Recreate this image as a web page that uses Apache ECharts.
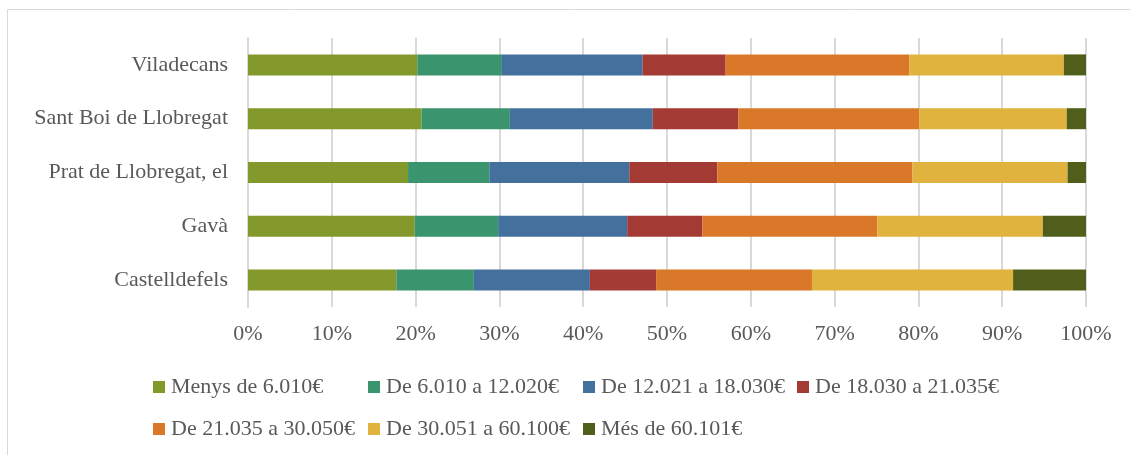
<!DOCTYPE html>
<html>
<head>
<meta charset="utf-8">
<script src="https://cdn.jsdelivr.net/npm/echarts@6/dist/echarts.min.js"></script>
<style>
  html, body { margin: 0; padding: 0; background: #fff; }
  #chart { width: 1130px; height: 455px; }
</style>
</head>
<body>
<div id="chart"></div>
<script>
// categories, bottom to top
const towns = ['Castelldefels', 'Gavà', 'Prat de Llobregat, el', 'Sant Boi de Llobregat', 'Viladecans'];
const xTicks = [0, 10, 20, 30, 40, 50, 60, 70, 80, 90, 100];

const brackets = [
  'Menys de 6.010€',
  'De 6.010 a 12.020€',
  'De 12.021 a 18.030€',
  'De 18.030 a 21.035€',
  'De 21.035 a 30.050€',
  'De 30.051 a 60.100€',
  'Més de 60.101€'
];

// share (%) per town, same order as towns
const menys6010 = [17.7, 19.9, 19.1, 20.7, 20.2];
const de6010 = [9.25, 9.95, 9.7, 10.55, 10.1];
const de12021 = [13.85, 15.4, 16.7, 17.05, 16.8];
const de18030 = [7.9, 8.95, 10.5, 10.2, 9.9];
const de21035 = [18.6, 20.9, 23.3, 21.6, 21.9];
const de30051 = [24.0, 19.75, 18.5, 17.6, 18.45];
const mes60101 = [8.7, 5.15, 2.2, 2.3, 2.65];

const values = [menys6010, de6010, de12021, de18030, de21035, de30051, mes60101];
const colors = ['#84992b', '#3a946e', '#43709d', '#a33a33', '#d97829', '#e0b33f', '#4f5f1b'];

const font = '"Liberation Serif", "DejaVu Serif", serif';
const textColor = '#595959';

const chart = echarts.init(document.getElementById('chart'));

// legend laid out in columns like the original
const legendCols = [
  { left: 153, data: [brackets[0], brackets[4]] },
  { left: 368, data: [brackets[1], brackets[5]] },
  { left: 583, data: [brackets[2], brackets[6]] },
  { left: 797, data: [brackets[3]] }
];

const option = {
  animation: false,
  graphic: [{
    type: 'rect',
    shape: { x: 7.5, y: 9.5, width: 1200, height: 600 },
    style: { fill: 'none', stroke: '#d9d9d9', lineWidth: 1 },
    silent: true,
    z: -10
  }],
  legend: legendCols.map(col => ({
    left: col.left,
    top: 376,
    padding: 0,
    orient: 'vertical',
    itemWidth: 12,
    itemHeight: 12,
    itemGap: 20,
    icon: 'rect',
    data: col.data,
    textStyle: {
      fontFamily: font,
      fontSize: 22,
      color: textColor,
      lineHeight: 22,
      padding: [0, 0, 0, 1]
    }
  })),
  grid: {
    left: 248,
    right: 44,
    top: 38,
    height: 269,
    containLabel: false
  },
  xAxis: {
    type: 'value',
    min: 0,
    max: 100,
    interval: 10,
    axisLine: { show: false },
    axisTick: { show: false },
    splitLine: { lineStyle: { color: '#d9d9d9', width: 2 } },
    axisLabel: {
      formatter: '{value}%',
      fontFamily: font,
      fontSize: 22,
      color: textColor,
      margin: 16
    }
  },
  yAxis: {
    type: 'category',
    data: towns,
    axisLine: { show: true, lineStyle: { color: '#d9d9d9', width: 2 } },
    axisTick: { show: false },
    axisLabel: {
      fontFamily: font,
      fontSize: 22,
      color: textColor,
      margin: 20
    }
  },
  series: brackets.map((name, i) => ({
    name: name,
    type: 'bar',
    stack: 'total',
    barWidth: 21,
    data: values[i],
    itemStyle: { color: colors[i] }
  }))
};

chart.setOption(option);
</script>
</body>
</html>
